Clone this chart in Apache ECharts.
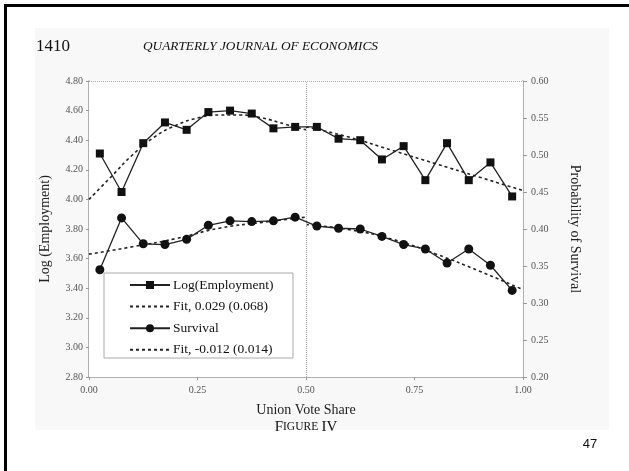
<!DOCTYPE html>
<html><head><meta charset="utf-8">
<script src="https://cdn.jsdelivr.net/npm/echarts@6/dist/echarts.min.js"></script>
<style>html,body{margin:0;padding:0;background:#fff}#c{width:629px;height:471px}</style>
</head><body><div id="c"></div>
<script>
// Bin midpoints of union vote share
const voteShare = [0.025,0.075,0.125,0.175,0.225,0.275,0.325,0.375,0.425,0.475,0.525,0.575,0.625,0.675,0.725,0.775,0.825,0.875,0.925,0.975];
// Log(Employment) by bin (left axis)
const logEmployment = [4.31,4.05,4.38,4.52,4.47,4.59,4.60,4.58,4.48,4.49,4.49,4.41,4.40,4.27,4.36,4.13,4.38,4.13,4.25,4.02];
// Probability of survival by bin (right axis)
const survival = [0.345,0.415,0.380,0.379,0.386,0.405,0.411,0.410,0.411,0.416,0.404,0.401,0.400,0.390,0.379,0.373,0.354,0.373,0.351,0.317];
// Fitted curves
const fitLeftX  = [0,0.05,0.10,0.15,0.20,0.25,0.30,0.35,0.40,0.45,0.50];
const empFitLeft = [4.00,4.15,4.30,4.42,4.50,4.55,4.57,4.57,4.55,4.51,4.47];
const fitRightX = [0.50,0.60,0.70,0.80,0.90,1.00];
const empFitRight = [4.49,4.42,4.33,4.24,4.15,4.06];
const survFitLeftX = [0,0.10,0.20,0.30,0.40,0.50];
const survFitLeft = [0.366,0.376,0.387,0.401,0.409,0.416];
const survFitRight = [0.406,0.399,0.386,0.366,0.343,0.318];
// Axis settings
const xTicks = {min:0, max:1, interval:0.25};
const leftTicks = {min:2.8, max:4.8, interval:0.2};
const rightTicks = {min:0.2, max:0.6, interval:0.05};
const names = {emp:'Log(Employment)', empFit:'Fit, 0.029 (0.068)', surv:'Survival', survFit:'Fit, -0.012 (0.014)'};

const zip = (xs, ys) => xs.map((x,i)=>[x, ys[i]]);
const serif = '"Liberation Serif","DejaVu Serif",serif';
const tickLabel = {fontFamily:serif, fontSize:10, color:'#555'};
const axisLine = {show:true, lineStyle:{color:'#999', width:1.5}};
const fitStyle = {color:'#222', width:1.6, type:[3,3]};

const chart = echarts.init(document.getElementById('c'), null, {renderer:'canvas'});
chart.setOption({
  animation:false,
  backgroundColor:'#fff',
  grid:{left:89, right:106, top:81, bottom:94, show:true, backgroundColor:'#fff', borderWidth:0, z:1},
  graphic:[
    {type:'rect', shape:{x:35,y:28,width:574,height:402}, style:{fill:'#f8f8f8'}, z:-10, silent:true},
    {type:'rect', shape:{x:4,y:4,width:3,height:467}, style:{fill:'#000'}, z:10},
    {type:'rect', shape:{x:4,y:4,width:625,height:3}, style:{fill:'#000'}, z:10},
    {type:'text', left:36, top:38, style:{text:'1410', font:'17px '+serif, fill:'#111'}},
    {type:'text', left:143, top:40, style:{text:'QUARTERLY JOURNAL OF ECONOMICS', font:'italic 13.3px '+serif, fill:'#111'}},
    {type:'rect', shape:{x:104,y:273,width:189,height:85}, style:{fill:'#fff', stroke:'#aaa', lineWidth:1}, z:50},
    {type:'text', x:306, y:427, style:{
      text:'{a|F}{b|IGURE} {a|IV}', align:'center', verticalAlign:'middle',
      rich:{a:{fontFamily:serif, fontSize:15, fill:'#111'}, b:{fontFamily:serif, fontSize:11.5, fill:'#111'}}
    }},
    {type:'text', x:590, y:444, style:{text:'47', align:'center', verticalAlign:'middle', font:'13px "Liberation Sans",Arial,sans-serif', fill:'#111'}}
  ],
  legend:{
    orient:'vertical', left:124, top:273, itemWidth:40, itemHeight:10, itemGap:7.6,
    z:60, textStyle:{fontFamily:serif, fontSize:13.5, color:'#111', padding:[0,0,0,-2]},
    data:[
      {name:names.emp},
      {name:names.empFit, itemStyle:{opacity:0}},
      {name:names.surv},
      {name:names.survFit, itemStyle:{opacity:0}}
    ]
  },
  xAxis:{
    type:'value', min:xTicks.min, max:xTicks.max, interval:xTicks.interval,
    name:'Union Vote Share', nameLocation:'middle', nameGap:26,
    nameTextStyle:{fontFamily:serif, fontSize:14, color:'#222'},
    axisLine:axisLine, axisTick:{show:true, length:3, lineStyle:{color:'#999'}},
    splitLine:{show:false},
    axisLabel:Object.assign({formatter:v=>v.toFixed(2), margin:8}, tickLabel)
  },
  yAxis:[{
    type:'value', min:leftTicks.min, max:leftTicks.max, interval:leftTicks.interval,
    name:'Log (Employment)', nameLocation:'middle', nameGap:37, nameRotate:90,
    nameTextStyle:{fontFamily:serif, fontSize:14, color:'#222'},
    axisLine:axisLine, axisTick:{show:true, length:3, lineStyle:{color:'#999'}},
    splitLine:{show:false},
    axisLabel:Object.assign({formatter:v=>v.toFixed(2), margin:6}, tickLabel)
  },{
    type:'value', position:'right', min:rightTicks.min, max:rightTicks.max, interval:rightTicks.interval,
    name:'Probability of Survival', nameLocation:'middle', nameGap:45, nameRotate:-90,
    nameTextStyle:{fontFamily:serif, fontSize:14, color:'#222'},
    axisLine:axisLine, axisTick:{show:true, length:4, lineStyle:{color:'#999'}},
    splitLine:{show:false},
    axisLabel:Object.assign({formatter:v=>v.toFixed(2), margin:8}, tickLabel)
  }],
  series:[
    {name:names.emp, type:'line', yAxisIndex:0, data:zip(voteShare, logEmployment),
     symbol:'rect', symbolSize:8, itemStyle:{color:'#111'}, lineStyle:{color:'#222', width:1.3}, z:5,
     markLine:{silent:true, symbol:'none', label:{show:false},
       lineStyle:{color:'#aaa', width:1, type:'dotted'},
       data:[{xAxis:0.5},{yAxis:leftTicks.max}]}},
    {name:names.empFit, type:'line', yAxisIndex:0, data:zip(fitLeftX, empFitLeft), smooth:true,
     symbol:'none', lineStyle:fitStyle, itemStyle:{color:'#222'}, z:4},
    {name:names.empFit, type:'line', yAxisIndex:0, data:zip(fitRightX, empFitRight), smooth:true,
     symbol:'none', lineStyle:fitStyle, itemStyle:{color:'#222'}, z:4},
    {name:names.surv, type:'line', yAxisIndex:1, data:zip(voteShare, survival),
     symbol:'circle', symbolSize:9, itemStyle:{color:'#111'}, lineStyle:{color:'#222', width:1.3}, z:5},
    {name:names.survFit, type:'line', yAxisIndex:1, data:zip(survFitLeftX, survFitLeft), smooth:true,
     symbol:'none', lineStyle:fitStyle, itemStyle:{color:'#222'}, z:4},
    {name:names.survFit, type:'line', yAxisIndex:1, data:zip(fitRightX, survFitRight), smooth:true,
     symbol:'none', lineStyle:fitStyle, itemStyle:{color:'#222'}, z:4}
  ]
});
</script></body></html>
